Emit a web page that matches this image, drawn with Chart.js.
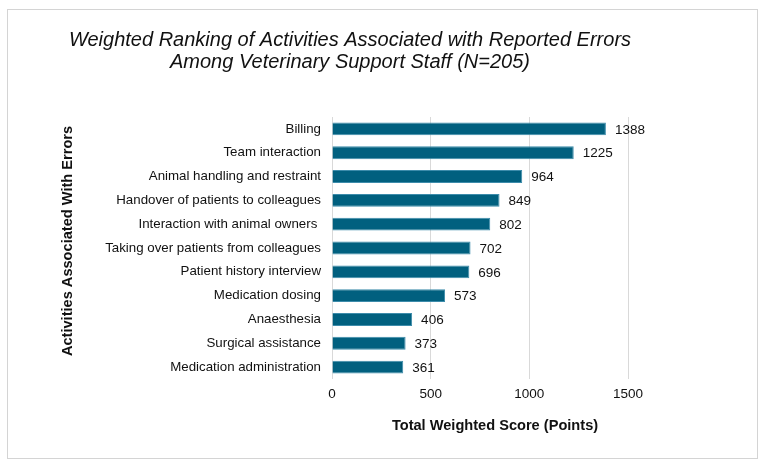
<!DOCTYPE html>
<html>
<head>
<meta charset="utf-8">
<script src="https://cdn.jsdelivr.net/npm/chart.js@4"></script>
<style>
html,body{margin:0;padding:0;background:#fff;}
#wrap{width:765px;height:468px;position:relative;}
</style>
</head>
<body>
<div id="wrap"><canvas id="c" width="765" height="468"></canvas></div>
<script>
const titleLines = ["Weighted Ranking of Activities Associated with Reported Errors", "Among Veterinary Support Staff (N=205)"];
const categories = [
  "Billing",
  "Team interaction",
  "Animal handling and restraint",
  "Handover of patients to colleagues",
  "Interaction with animal owners ",
  "Taking over patients from colleagues",
  "Patient history interview",
  "Medication dosing",
  "Anaesthesia",
  "Surgical assistance",
  "Medication administration"
];
const scores = [1388, 1225, 964, 849, 802, 702, 696, 573, 406, 373, 361];
const xTicks = [0, 500, 1000, 1500];
const xTitle = "Total Weighted Score (Points)";
const yTitle = "Activities Associated With Errors";

const FONT = "'Liberation Sans', Arial, sans-serif";

const frame = {
  id: 'frame',
  beforeDraw(chart) {
    const ctx = chart.ctx;
    ctx.save();
    ctx.fillStyle = '#fff';
    ctx.fillRect(0, 0, chart.width, chart.height);
    ctx.strokeStyle = '#d4d4d4';
    ctx.lineWidth = 1;
    ctx.strokeRect(7.5, 9.5, 750, 449);
    ctx.restore();
  },
  afterDraw(chart) {
    const ctx = chart.ctx;
    ctx.save();
    ctx.fillStyle = '#111';
    ctx.font = "italic 20px " + FONT;
    ctx.textAlign = 'center';
    ctx.textBaseline = 'middle';
    ctx.fillText(titleLines[0], 350, 40);
    ctx.fillText(titleLines[1], 350, 62);
    ctx.font = "bold 14.6px " + FONT;
    ctx.fillText(xTitle, 495, 426);
    ctx.translate(68, 241);
    ctx.rotate(-Math.PI / 2);
    ctx.fillText(yTitle, 0, 0);
    ctx.restore();
  }
};

const valueLabels = {
  id: 'valueLabels',
  afterDatasetsDraw(chart) {
    const ctx = chart.ctx;
    const meta = chart.getDatasetMeta(0);
    ctx.save();
    ctx.fillStyle = '#111';
    ctx.font = "13.5px " + FONT;
    ctx.textAlign = 'left';
    ctx.textBaseline = 'middle';
    meta.data.forEach((bar, i) => {
      ctx.fillText(String(scores[i]), bar.x + 9, bar.y + 1);
    });
    ctx.restore();
  }
};

new Chart(document.getElementById('c'), {
  type: 'bar',
  data: {
    labels: categories,
    datasets: [{
      data: scores,
      backgroundColor: '#01607F',
      borderColor: '#3d8cab',
      borderWidth: 1,
      barPercentage: 0.54,
      categoryPercentage: 1.0
    }]
  },
  plugins: [frame, valueLabels],
  options: {
    indexAxis: 'y',
    responsive: false,
    animation: false,
    devicePixelRatio: 1,
    layout: { padding: { left: 57, right: 137, top: 117, bottom: 30 } },
    plugins: {
      legend: { display: false },
      title: { display: false },
      tooltip: { enabled: false }
    },
    scales: {
      x: {
        min: 0,
        max: 1500,
        afterBuildTicks(scale) { scale.ticks = xTicks.map(v => ({ value: v })); },
        afterFit(scale) { scale.height = 59; },
        grid: { color: '#d9d9d9', drawTicks: false, lineWidth: 1 },
        border: { display: false },
        ticks: {
          color: '#111', font: { family: FONT, size: 13.5 }, padding: 7,
          callback: (v) => String(v)
        },
        title: { display: false }
      },
      y: {
        afterFit(scale) { scale.width = 275; },
        grid: { display: false, drawTicks: false },
        border: { display: false },
        ticks: { color: '#111', font: { family: FONT, size: 13.3 }, padding: 11 },
        title: { display: false }
      }
    }
  }
});
</script>
</body>
</html>
